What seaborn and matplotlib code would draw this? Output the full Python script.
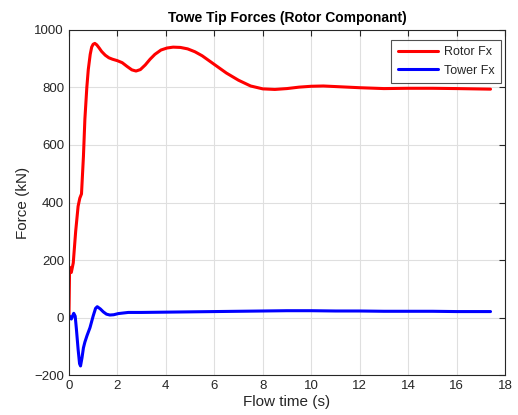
import numpy as np
import pandas as pd
import matplotlib
matplotlib.use("Agg")
import matplotlib.pyplot as plt
import seaborn as sns

# values
time_rotor = [0, 0.03, 0.1, 0.18, 0.28, 0.38, 0.45, 0.52, 0.6, 0.66, 0.74, 0.8, 0.88, 0.94,
              1.0, 1.07, 1.15, 1.25, 1.35, 1.5, 1.65, 1.8, 2.0, 2.2, 2.4, 2.6, 2.77, 2.95,
              3.15, 3.35, 3.55, 3.8, 4.05, 4.3, 4.6, 4.9, 5.2, 5.5, 6.0, 6.5, 7.0, 7.5,
              8.0, 8.5, 9.0, 9.5, 10.0, 10.5, 11.0, 12.0, 13.0, 14.0, 15.0, 16.0, 17.4]
rotor_fx = [0, 175, 157, 190, 300, 387, 415, 430, 560, 690, 800, 862, 915, 940,
            950, 953, 948, 937, 925, 912, 903, 898, 893, 886, 873, 861, 857, 862,
            878, 898, 915, 930, 937, 940, 939, 934, 924, 910, 880, 850, 825, 805,
            795, 793, 796, 801, 804, 805, 803, 799, 796, 797, 797, 796, 794]

time_tower = [0, 0.03, 0.1, 0.2, 0.26, 0.31, 0.38, 0.44, 0.48, 0.54, 0.6, 0.66, 0.75, 0.87,
              1.0, 1.1, 1.17, 1.3, 1.42, 1.55, 1.69, 1.85, 2.04, 2.45, 3.0, 4.0, 5.0, 6.0,
              7.0, 8.0, 9.0, 10.0, 11.0, 12.0, 13.0, 14.0, 15.0, 16.0, 17.4]
tower_fx = [0, 5, -5, 15, 5, -40, -110, -160, -168, -140, -105, -85, -62, -35,
            5, 32, 38, 30, 20, 12, 9, 10, 14, 18, 18, 19, 20, 21,
            22, 23, 24, 24, 23, 23, 22, 22, 22, 21, 21]

df = pd.concat([
    pd.DataFrame({"t": time_rotor, "F": rotor_fx, "series": "Rotor Fx"}),
    pd.DataFrame({"t": time_tower, "F": tower_fx, "series": "Tower Fx"}),
])

sns.set_style("white")
plt.rcParams["font.family"] = ["Liberation Sans", "DejaVu Sans"]

fig = plt.figure(figsize=(5.18, 4.15), dpi=100)
ax = fig.add_axes([0.133, 0.096, 0.842, 0.832])

sns.lineplot(data=df, x="t", y="F", hue="series", palette=["#ff0000", "#0000ff"],
             linewidth=2.2, sort=False, estimator=None, ax=ax)

ax.set_xlim(0, 18)
ax.set_ylim(-200, 1000)
ax.set_xticks(np.arange(0, 19, 2))
ax.set_yticks(np.arange(-200, 1001, 200))
ax.grid(True, color="#dfdfdf", linewidth=0.8)
ax.tick_params(direction="in", top=True, right=True, length=4, labelsize=9.5,
               colors="#262626", width=0.8)
for s in ax.spines.values():
    s.set_color("#262626")
    s.set_linewidth(0.8)

ax.set_xlabel("Flow time (s)", fontsize=11, color="#262626", labelpad=2)
ax.set_ylabel("Force (kN)", fontsize=11, color="#262626", labelpad=3)
ax.set_title("Towe Tip Forces (Rotor Componant)", fontsize=10, fontweight="bold",
             color="black", pad=6)

leg = ax.legend(loc="upper right", bbox_to_anchor=(0.99, 0.97), borderaxespad=0,
                fontsize=9, frameon=True, fancybox=False,
                handlelength=3.2, handletextpad=0.5,
                labelspacing=0.5, borderpad=0.5)
leg.get_frame().set_edgecolor("#262626")
leg.get_frame().set_linewidth(0.8)
leg.set_title(None)

fig.savefig("out.png", dpi=100)
